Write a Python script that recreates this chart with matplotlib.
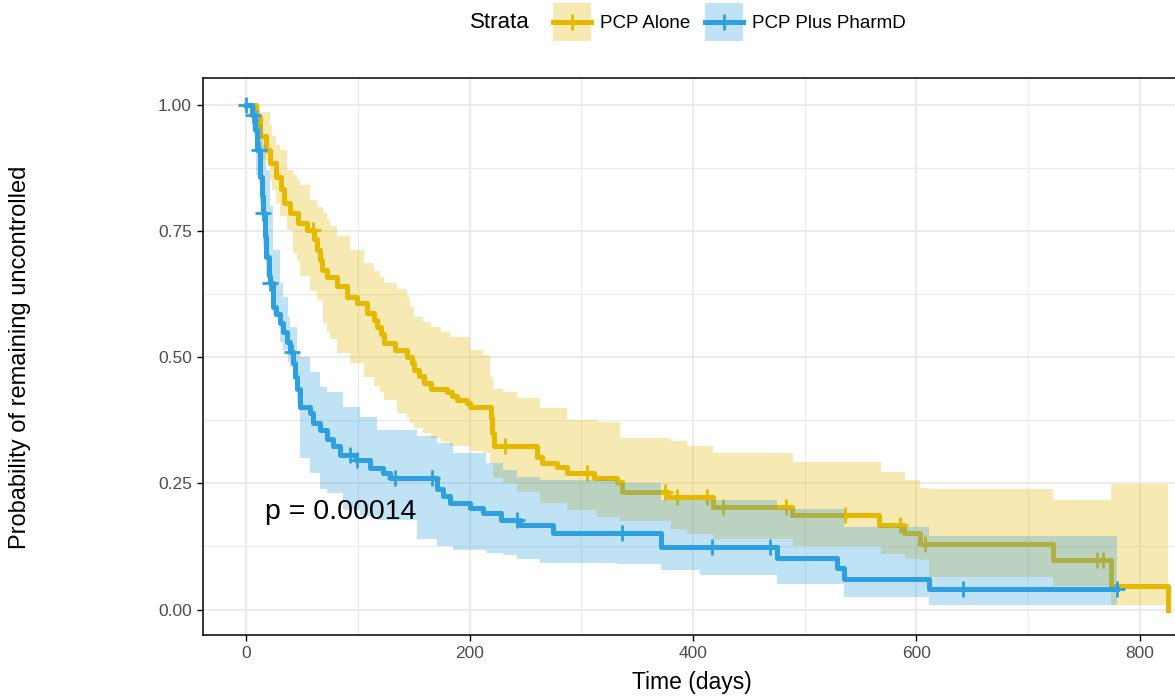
import numpy as np
import matplotlib
matplotlib.use("Agg")
import matplotlib.pyplot as plt
from matplotlib.patches import Patch
from matplotlib.lines import Line2D
from matplotlib.legend_handler import HandlerLine2D

plt.rcParams['font.family'] = ['Liberation Sans', 'DejaVu Sans']

# --- PCP Alone (yellow) survival steps
t_alone = [0, 9, 12, 18, 21, 27, 31, 34, 39, 46, 54, 61, 63, 66, 68, 72, 81, 90, 99, 108,
           114, 117, 121, 123, 133, 144, 148, 150, 155, 159, 165, 180, 184, 189, 198, 200,
           219, 220, 222, 260, 265, 278, 287, 311, 332, 336, 378, 418, 489, 567, 589, 603,
           722, 774, 825]
s_alone = [1.0, 0.975, 0.937, 0.91, 0.885, 0.857, 0.832, 0.806, 0.786, 0.766, 0.752, 0.733,
           0.713, 0.693, 0.673, 0.659, 0.64, 0.62, 0.608, 0.588, 0.574, 0.56, 0.545, 0.528,
           0.515, 0.501, 0.488, 0.475, 0.462, 0.449, 0.436, 0.43, 0.423, 0.416, 0.409, 0.402,
           0.38, 0.35, 0.323, 0.303, 0.29, 0.283, 0.271, 0.261, 0.253, 0.232, 0.222, 0.203,
           0.188, 0.168, 0.152, 0.13, 0.099, 0.046, 0.0]
cens_t_alone = [60, 232, 305, 375, 386, 413, 427, 483, 536, 585, 608, 762, 767]

# band for PCP Alone
bt_alone = [0, 9, 12, 21, 23, 27, 30, 36, 42, 45, 48, 57, 63, 69, 72, 75, 81, 93, 105, 114,
            120, 123, 135, 144, 147, 150, 158, 165, 174, 182, 200, 212, 218, 221, 230, 242,
            263, 287, 314, 335, 380, 395, 418, 490, 568, 590, 603, 611, 722, 774, 825]
up_alone = [1.0, 1.0, 0.986, 0.96, 0.937, 0.92, 0.911, 0.871, 0.86, 0.851, 0.84, 0.812,
            0.798, 0.785, 0.772, 0.76, 0.739, 0.713, 0.687, 0.67, 0.659, 0.647, 0.635, 0.62,
            0.6, 0.58, 0.57, 0.56, 0.55, 0.54, 0.515, 0.505, 0.461, 0.436, 0.43, 0.42, 0.4,
            0.376, 0.372, 0.34, 0.333, 0.323, 0.311, 0.293, 0.273, 0.257, 0.241, 0.238,
            0.218, 0.248, 0.248]
lo_alone = [1.0, 0.93, 0.89, 0.85, 0.83, 0.806, 0.78, 0.752, 0.707, 0.69, 0.66, 0.63, 0.614,
            0.568, 0.55, 0.535, 0.509, 0.489, 0.461, 0.442, 0.43, 0.416, 0.39, 0.38, 0.37,
            0.36, 0.35, 0.34, 0.331, 0.323, 0.315, 0.311, 0.29, 0.26, 0.251, 0.232, 0.212,
            0.198, 0.184, 0.175, 0.16, 0.15, 0.14, 0.125, 0.11, 0.1, 0.099, 0.065, 0.046,
            0.01, 0.01]

# --- PCP Plus PharmD (blue) survival steps
t_pharm = [0, 5, 8, 9.5, 12, 14, 15, 17, 18, 20, 21, 24, 27, 30, 33, 36, 39, 42, 44, 45, 48,
           57, 60, 66, 72, 78, 84, 98, 111, 122, 129, 171, 176, 182, 200, 212, 228, 245, 275,
           371, 475, 529, 535, 611, 780]
s_pharm = [1.0, 0.98, 0.95, 0.91, 0.857, 0.82, 0.786, 0.74, 0.699, 0.66, 0.647, 0.6, 0.585,
           0.568, 0.55, 0.529, 0.51, 0.489, 0.46, 0.436, 0.402, 0.39, 0.37, 0.356, 0.337,
           0.323, 0.307, 0.297, 0.281, 0.27, 0.26, 0.238, 0.225, 0.212, 0.202, 0.192, 0.178,
           0.168, 0.152, 0.123, 0.103, 0.083, 0.06, 0.04, 0.04]
cens_t_pharm = [0, 6, 11, 15, 21, 41, 93, 99, 133, 166, 242, 336, 417, 469, 642, 780]

bt_pharm = [0, 5, 9, 12, 15, 18, 21, 24, 30, 33, 37, 39, 45, 48, 57, 66, 72, 87, 102, 117,
            153, 171, 185, 215, 230, 242, 263, 332, 371, 406, 475, 535, 611, 780]
up_pharm = [1.0, 1.0, 0.99, 0.96, 0.92, 0.87, 0.8, 0.713, 0.647, 0.62, 0.58, 0.56, 0.509,
            0.5, 0.47, 0.44, 0.43, 0.402, 0.382, 0.356, 0.343, 0.33, 0.311, 0.29, 0.277,
            0.263, 0.257, 0.251, 0.218, 0.218, 0.2, 0.164, 0.145, 0.145]
lo_pharm = [1.0, 0.95, 0.86, 0.8, 0.72, 0.66, 0.628, 0.58, 0.53, 0.515, 0.49, 0.481, 0.41,
            0.3, 0.27, 0.238, 0.23, 0.198, 0.185, 0.178, 0.139, 0.125, 0.119, 0.112, 0.109,
            0.1, 0.093, 0.09, 0.079, 0.069, 0.05, 0.024, 0.01, 0.01]

labels = ["PCP Alone", "PCP Plus PharmD"]
pval_text = "p = 0.00014"

yellow = "#E7B800"
blue = "#2E9FDF"
LW = 3.6
MS = 12
MEW = 2.0


def surv_at(ts, ss, x):
    i = np.searchsorted(ts, x, side="right") - 1
    return np.array(ss)[i]


# legend line centred on the key box (default sits a bit high)
class CenteredLine(HandlerLine2D):
    def create_artists(self, legend, orig_handle, xdescent, ydescent, width, height,
                       fontsize, trans):
        arts = super().create_artists(legend, orig_handle, xdescent, ydescent, width,
                                      height, fontsize, trans)
        for a in arts:
            a.set_ydata(np.full_like(np.asarray(a.get_xdata(), float), height / 2 - ydescent))
        return arts


fig = plt.figure(figsize=(11.75, 6.96), dpi=100)
ax = fig.add_axes([203 / 1175, 61 / 696, 1 - 203 / 1175, 557 / 696])

# yellow group
ax.fill_between(bt_alone, lo_alone, up_alone, step="post", color=yellow, alpha=0.3,
                linewidth=0, zorder=2)
ax.step(t_alone, s_alone, where="post", color=yellow, lw=LW, zorder=3)
ax.plot(cens_t_alone, surv_at(t_alone, s_alone, cens_t_alone), ls="none", marker="+",
        ms=MS, mew=MEW, color=yellow, zorder=3)
# blue group
ax.fill_between(bt_pharm, lo_pharm, up_pharm, step="post", color=blue, alpha=0.3,
                linewidth=0, zorder=4)
ax.step(t_pharm, s_pharm, where="post", color=blue, lw=LW, zorder=5)
ax.plot(cens_t_pharm, surv_at(t_pharm, s_pharm, cens_t_pharm), ls="none", marker="+",
        ms=MS, mew=MEW, color=blue, zorder=5)

ax.text(17, 0.194, pval_text, fontsize=20.5, ha="left", va="center", zorder=6)

ax.set_xlim(-38.8, 831.7)
ax.set_ylim(-0.0503, 1.0527)
ax.set_xticks([0, 200, 400, 600, 800])
ax.set_xticks([100, 300, 500, 700], minor=True)
ax.set_yticks([0, 0.25, 0.5, 0.75, 1.0])
ax.set_yticklabels(["0.00", "0.25", "0.50", "0.75", "1.00"])
ax.set_yticks([0.125, 0.375, 0.625, 0.875], minor=True)
ax.grid(which="major", color="#E6E6E6", lw=1.1, zorder=0)
ax.grid(which="minor", color="#EBEBEB", lw=0.9, zorder=0)
ax.set_axisbelow(True)
ax.tick_params(which="major", length=4, width=1, color="black", labelsize=12.5,
               labelcolor="#4D4D4D", pad=4)
ax.tick_params(which="minor", length=0)
for side in ["left", "bottom", "top"]:
    ax.spines[side].set_color("black")
    ax.spines[side].set_linewidth(1.1)
ax.spines["right"].set_visible(False)

fig.text(692 / 1175, 1 - 683 / 696, "Time (days)", fontsize=16.5, ha="center", va="center")
fig.text(20 / 1175, 1 - 357 / 696, "Probability of remaining uncontrolled", fontsize=17,
         rotation=90, ha="center", va="center")

# legend
handles = [
    (Patch(facecolor=yellow, alpha=0.3, edgecolor="none"),
     Line2D([], [], color=yellow, lw=LW, marker="+", ms=MS, mew=MEW)),
    (Patch(facecolor=blue, alpha=0.3, edgecolor="none"),
     Line2D([], [], color=blue, lw=LW, marker="+", ms=MS, mew=MEW)),
]
fig.text(500 / 1175, 1 - 22 / 696, "Strata", fontsize=16, ha="center", va="center")
fig.legend(handles, labels, ncol=2, loc="center left", bbox_to_anchor=(553 / 1175, 1 - 22 / 696),
           frameon=False, fontsize=13.5, handlelength=2.0, handleheight=2.7, numpoints=1,
           columnspacing=0.8, handletextpad=0.5, borderpad=0, borderaxespad=0,
           handler_map={Line2D: CenteredLine()})

fig.savefig("out.png", dpi=100)
